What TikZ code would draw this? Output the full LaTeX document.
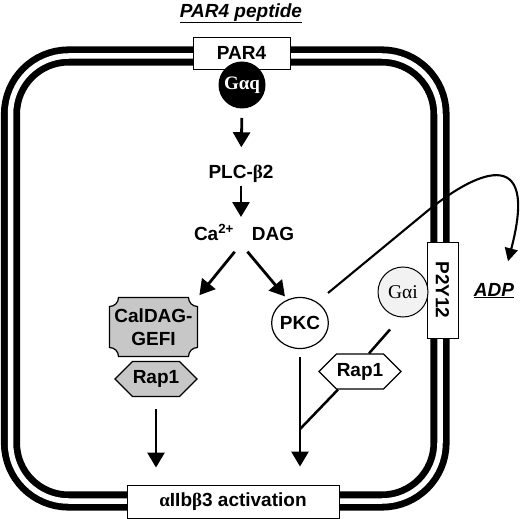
\documentclass[tikz,border=0pt]{standalone}
\usepackage{fontspec}
\setmainfont{Liberation Sans}
\newfontfamily\grk{Liberation Serif}
\usepackage{xcolor}
\definecolor{gefi}{gray}{0.78}
\definecolor{gaifill}{gray}{0.95}
\usetikzlibrary{arrows.meta,calc,backgrounds,shapes.geometric,shapes.symbols}
\tikzset{
  every picture/.style={font=\bfseries\fontsize{19}{20}\selectfont, line width=1pt},
  membrane/.style={draw=black, line width=6.8pt, double=white, double distance=5.5pt, rounded corners=58pt},
  portbox/.style={draw=black, fill=white, line width=0.9pt, inner sep=0pt},
  lbl/.style={inner sep=0pt, text height=13.5pt, text depth=0pt},
  hexbox/.style={signal, signal to=west and east, signal pointer angle=90, draw=black, line width=1.2pt,
    inner sep=0pt, minimum width=82pt, minimum height=35pt, fill=#1},
  hexbox/.default=white,
  notch/.style={draw=black, fill=gefi, line width=1.2pt},
  arrow/.style={-{Triangle[length=15pt,width=17pt]}, line width=2.8pt},
  link/.style={line width=2.5pt},
}

\begin{document}
\begin{tikzpicture}[x=1pt, y=-1pt,
    gq/.style={circle, fill=black, inner sep=0pt, minimum size=47pt, text=white, font=\grk\bfseries\fontsize{19}{20}\selectfont},
    gi/.style={circle, draw=black, fill=gaifill, inner sep=0pt, minimum size=50pt, font=\grk\fontsize{19.5}{20}\selectfont},
    enzyme/.style={ellipse, draw=black, fill=white, line width=1.2pt, inner sep=0pt, minimum width=56pt, minimum height=51pt}]
  \useasboundingbox (0,0) rectangle (520,519);
  \begin{scope}[on background layer]
    \fill[white] (0,0) rectangle (520,519);
  \end{scope}
  % cell membrane
  \draw[membrane] (10.5,56) rectangle (440,501);
  % receptors and readout sitting in the membrane
  \node[portbox, minimum width=97pt, minimum height=32pt] (par4) at (241.5,53) {PAR4};
  \node[portbox, minimum width=96pt, minimum height=31pt, rotate=-90] (p2y12) at (442.5,290) {P2Y12};
  \node[portbox, minimum width=212pt, minimum height=33pt] (itg) at (233,501.5) {{\grk α}IIb{\grk β}3 activation};
  \node[gq] (gaq) at (242,85) {Gαq};
  % labels
  \node[lbl] (title) at (241,10.5) {\textit{\underline{PAR4 peptide}}};
  \node[lbl] (plc) at (241,172) {PLC-{\grk β}2};
  \node[lbl] (ca) at (214,233.5) {Ca\textsuperscript{2+}};
  \node[lbl] (dag) at (273,233.5) {DAG};
  \node[lbl] (adp) at (494,289.5) {\textit{\underline{ADP}}};
  \coordinate (fork) at (241,244);
  % left branch
  \node[inner sep=0pt, minimum width=87pt, minimum height=58pt, align=center,
    font=\bfseries\fontsize{19}{23}\selectfont] (cgefi) at (153.5,327) {CalDAG-\\GEFI};
  \begin{scope}[on background layer]
    \filldraw[notch] ($(cgefi.north west)+(9,0)$) -- ($(cgefi.north east)+(-9,0)$)
      .. controls +(0,5) and +(-5,0) .. ($(cgefi.north east)+(0,9)$)
      -- ($(cgefi.south east)+(0,-9)$)
      .. controls +(-5,0) and +(0,-5) .. ($(cgefi.south east)+(-9,0)$)
      -- ($(cgefi.south west)+(9,0)$)
      .. controls +(0,-5) and +(5,0) .. ($(cgefi.south west)+(0,-9)$)
      -- ($(cgefi.north west)+(0,9)$)
      .. controls +(5,0) and +(0,5) .. ($(cgefi.north west)+(9,0)$) -- cycle;
  \end{scope}
  \node[hexbox=gefi] (rapa) at (156,379) {Rap1};
  % right branch
  \node[enzyme] (pkc) at (300,323) {PKC};
  \node[gi] (gai) at (403,292) {Gαi};
  \node[hexbox] (rapb) at (360,371.5) {Rap1};
  \path (pkc.south) ++(0,80) coordinate (join);
  % connectors
  \draw[arrow, shorten <=9pt, shorten >=17.5pt] (gaq.south) -- (plc.north);
  \draw[arrow, shorten <=6.5pt, shorten >=27pt] (plc.south) -- (fork);
  \draw[arrow, shorten <=10pt, shorten >=3pt] (fork) -- (cgefi.north east);
  \draw[arrow, shorten <=10pt, shorten >=4pt] (fork) -- (pkc.118);
  \draw[arrow, shorten <=12pt, shorten >=17pt] (rapa.south) -- (rapa.south |- itg.north);
  \draw[arrow, shorten <=8pt, shorten >=18pt] (pkc.south) -- (pkc.south |- itg.north);
  \draw[link] ($(rapb.south)+(-22,0)$) -- (join);
  \draw[link] ($(gai.south)+(-13,12)$) -- ($(rapb.north)+(9,0)$);
  \draw[arrow, line width=2.1pt, -{Triangle[length=13pt,width=13pt]}] ($(pkc.center)+(28,-30)$)
    -- (425,213) .. controls (473,173) and (540,140) .. ($(adp.north)+(14,-21)$);
\end{tikzpicture}
\end{document}
